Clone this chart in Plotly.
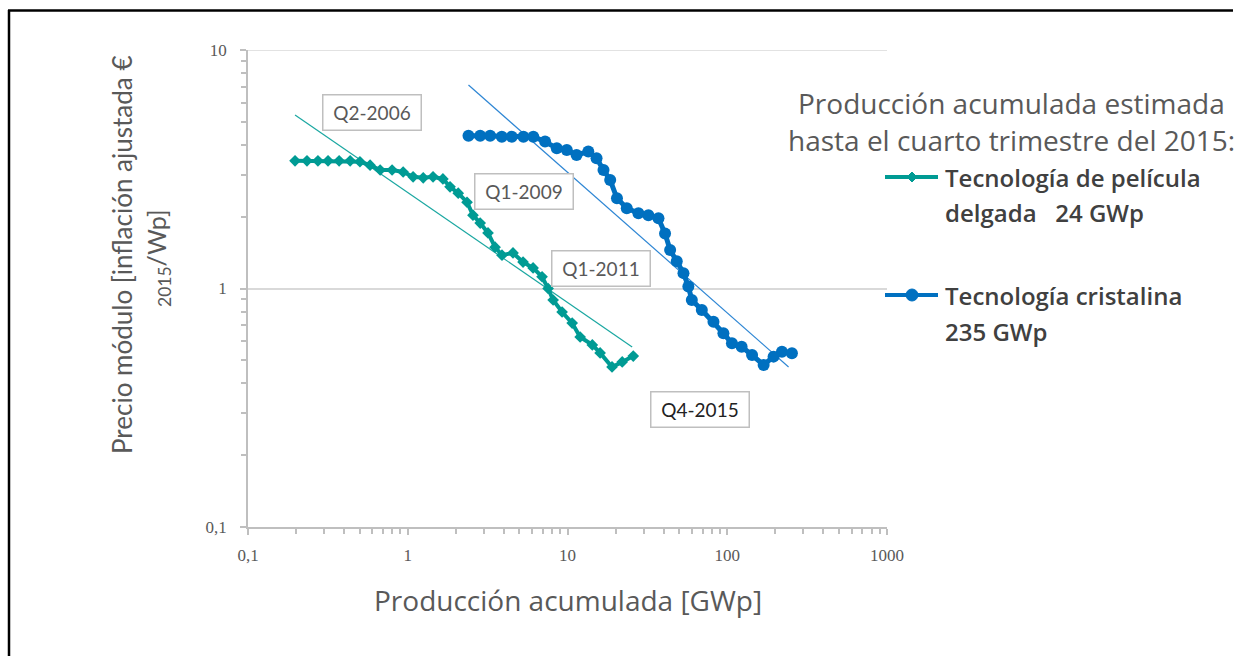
import plotly.graph_objects as go

# ---------------- data ----------------
thin_x = [0.197, 0.234, 0.274, 0.317, 0.372, 0.436, 0.502, 0.581, 0.672, 0.798,
          0.936, 1.08, 1.25, 1.44, 1.66, 1.84, 2.07, 2.35, 2.56, 2.84,
          3.18, 3.52, 3.89, 4.56, 5.27, 6.09, 6.93, 7.56, 8.13, 9.25,
          10.7, 12.0, 14.3, 16.0, 19.0, 22.0, 25.8]
thin_y = [3.43, 3.43, 3.43, 3.43, 3.43, 3.43, 3.40, 3.29, 3.14, 3.14,
          3.08, 2.94, 2.91, 2.94, 2.88, 2.67, 2.51, 2.30, 2.03, 1.88,
          1.71, 1.49, 1.38, 1.41, 1.29, 1.22, 1.12, 1.00, 0.895, 0.797,
          0.716, 0.626, 0.580, 0.537, 0.469, 0.492, 0.521]

cris_x = [2.40, 2.84, 3.28, 3.88, 4.48, 5.30, 6.11, 7.24, 8.57, 9.90,
          11.4, 13.5, 15.2, 16.8, 18.5, 20.4, 23.5, 27.8, 32.1, 37.1,
          40.8, 43.9, 48.3, 53.2, 57.1, 60.0, 69.3, 82.0, 94.6, 107,
          123, 143, 169, 195, 220, 254]
cris_y = [4.37, 4.37, 4.37, 4.33, 4.33, 4.33, 4.33, 4.13, 3.87, 3.81,
          3.63, 3.75, 3.52, 3.14, 2.85, 2.39, 2.17, 2.07, 2.03, 1.97,
          1.70, 1.45, 1.30, 1.16, 1.02, 0.895, 0.812, 0.726, 0.649, 0.589,
          0.570, 0.526, 0.478, 0.518, 0.543, 0.535]

trend_thin_x = [0.197, 25.4]
trend_thin_y = [5.34, 0.569]
trend_cris_x = [2.40, 242]
trend_cris_y = [7.13, 0.469]

tick_vals_x = [0.1, 1, 10, 100, 1000]
tick_text_x = ["0,1", "1", "10", "100", "1000"]
tick_vals_y = [0.1, 1, 10]
tick_text_y = ["0,1", "1", "10"]

quarter_labels = ["Q2-2006", "Q1-2009", "Q1-2011", "Q4-2015"]

legend_title_lines = ["Producción acumulada estimada",
                      "hasta el cuarto trimestre del 2015:"]
legend_thin_lines = ["Tecnología de película", "delgada&nbsp;&nbsp;&nbsp;24 GWp"]
legend_cris_lines = ["Tecnología cristalina", "235 GWp"]

x_title = "Producción acumulada [GWp]"
y_title_1 = "Precio módulo [inflación ajustada €"
y_title_2 = "<sub>2015</sub>/Wp]"

# ---------------- styles ----------------
TEAL = "#009B94"
BLUE = "#0070C0"
TEAL_T = "#1AA7A1"
BLUE_T = "#2E86D4"
GRAY_TXT = "#595959"
AXIS = "#BFBFBF"
GRID = "#D9D9D9"
SANS = "Lato, 'Open Sans', sans-serif"
OPEN = "'Open Sans', Lato, sans-serif"
SERIF = "'Liberation Serif', serif"

W, H = 1241, 656
L, R, T, B = 248, 887, 50, 527


def pxx(px):
    return (px - L) / (R - L)


def pxy(py):
    return (B - py) / (B - T)


fig = go.Figure()

fig.add_trace(go.Scatter(x=trend_thin_x, y=trend_thin_y, mode="lines",
                         line=dict(color=TEAL_T, width=1.2), showlegend=False,
                         hoverinfo="skip"))
fig.add_trace(go.Scatter(x=trend_cris_x, y=trend_cris_y, mode="lines",
                         line=dict(color=BLUE_T, width=1.2), showlegend=False,
                         hoverinfo="skip"))
fig.add_trace(go.Scatter(x=thin_x, y=thin_y, mode="lines+markers",
                         line=dict(color=TEAL, width=4),
                         marker=dict(symbol="diamond", size=9, color=TEAL),
                         showlegend=False))
fig.add_trace(go.Scatter(x=cris_x, y=cris_y, mode="lines+markers",
                         line=dict(color=BLUE, width=5),
                         marker=dict(symbol="circle", size=12, color=BLUE),
                         showlegend=False))

axis_common = dict(
    type="log",
    showline=True, linecolor=AXIS, linewidth=1.5,
    ticks="outside", ticklen=6, tickcolor=AXIS, tickwidth=1.5,
    tickfont=dict(family=SERIF, size=17, color=GRAY_TXT),
    minor=dict(ticks="outside", ticklen=5, tickcolor=AXIS, tickwidth=1.5,
               dtick="D1", showgrid=False),
    zeroline=False,
)

fig.update_xaxes(range=[-1, 3], tickvals=tick_vals_x, ticktext=tick_text_x,
                 showgrid=False, ticklabelstandoff=6, **axis_common)
fig.update_yaxes(range=[-1, 1], tickvals=tick_vals_y, ticktext=tick_text_y,
                 showgrid=True, gridcolor=GRID, gridwidth=1.5,
                 ticklabelstandoff=10, **axis_common)

annotations = []

# quarter label boxes: (center px x, center px y, text colour)
box_pos = [(372, 112.5, GRAY_TXT), (523.5, 191.5, GRAY_TXT),
           (600.5, 268, GRAY_TXT), (699.5, 409, "#222222")]
for lab, (cx, cy, col) in zip(quarter_labels, box_pos):
    annotations.append(dict(
        text=lab, xref="paper", yref="paper", x=pxx(cx), y=pxy(cy),
        xanchor="center", yanchor="middle", showarrow=False,
        font=dict(family=SANS, size=19, color=col),
        bgcolor="white", bordercolor=AXIS, borderwidth=1.5, borderpad=0,
        width=97, height=34))

# legend title
for i, line in enumerate(legend_title_lines):
    annotations.append(dict(
        text=line, xref="paper", yref="paper", x=pxx(1011), y=pxy(103 + 37 * i),
        xanchor="center", yanchor="middle", showarrow=False,
        font=dict(family=OPEN, size=28, color=GRAY_TXT)))

# legend entries text
for lines, y0 in ((legend_thin_lines, 177), (legend_cris_lines, 295)):
    for i, line in enumerate(lines):
        annotations.append(dict(
            text=line, xref="paper", yref="paper",
            x=pxx(943), y=pxy(y0 + 36 * i), xanchor="left", yanchor="middle",
            showarrow=False,
            font=dict(family=OPEN, size=24, color="#404040", weight=600)))

# axis titles
annotations.append(dict(
    text=x_title, xref="paper", yref="paper", x=pxx(568), y=pxy(600),
    xanchor="center", yanchor="middle", showarrow=False,
    font=dict(family=OPEN, size=28, color=GRAY_TXT)))
annotations.append(dict(
    text=y_title_1, xref="paper", yref="paper", x=pxx(122), y=pxy(255),
    xanchor="center", yanchor="middle", showarrow=False, textangle=-90,
    font=dict(family=SANS, size=26, color=GRAY_TXT)))
annotations.append(dict(
    text=y_title_2, xref="paper", yref="paper", x=pxx(158), y=pxy(258),
    xanchor="center", yanchor="middle", showarrow=False, textangle=-90,
    font=dict(family=SANS, size=25, color=GRAY_TXT)))

shapes = []
# top gridline at y = 10
shapes.append(dict(type="line", xref="paper", yref="y", x0=0, x1=1,
                   y0=tick_vals_y[-1], y1=tick_vals_y[-1],
                   line=dict(color=GRID, width=1.5), layer="below"))
# legend samples
for y0, col in ((177, TEAL), (295, BLUE)):
    shapes.append(dict(type="line", xref="paper", yref="paper",
                       x0=pxx(885), x1=pxx(938), y0=pxy(y0), y1=pxy(y0),
                       line=dict(color=col, width=4)))
# teal diamond
cx, cy, r = 912, 177, 5
shapes.append(dict(type="path", xref="paper", yref="paper",
                   path=f"M {pxx(cx - r)} {pxy(cy)} L {pxx(cx)} {pxy(cy - r)} "
                        f"L {pxx(cx + r)} {pxy(cy)} L {pxx(cx)} {pxy(cy + r)} Z",
                   fillcolor=TEAL, line=dict(color=TEAL, width=1)))
# blue circle
cx, cy, r = 912, 295, 6
shapes.append(dict(type="circle", xref="paper", yref="paper",
                   x0=pxx(cx - r), x1=pxx(cx + r), y0=pxy(cy + r), y1=pxy(cy - r),
                   fillcolor=BLUE, line=dict(color=BLUE, width=1)))

# outer black frame (left, top)
shapes.append(dict(type="line", xref="paper", yref="paper",
                   x0=pxx(9), x1=pxx(9), y0=pxy(10), y1=pxy(660),
                   line=dict(color="black", width=2.5)))
shapes.append(dict(type="line", xref="paper", yref="paper",
                   x0=pxx(8), x1=pxx(1233), y0=pxy(10.5), y1=pxy(10.5),
                   line=dict(color="black", width=2.5)))

fig.update_layout(
    width=W, height=H,
    margin=dict(l=L, r=W - R, t=T, b=H - B, pad=0),
    plot_bgcolor="white", paper_bgcolor="white",
    showlegend=False,
    annotations=annotations,
    shapes=shapes,
)

fig.write_html("out.html")
